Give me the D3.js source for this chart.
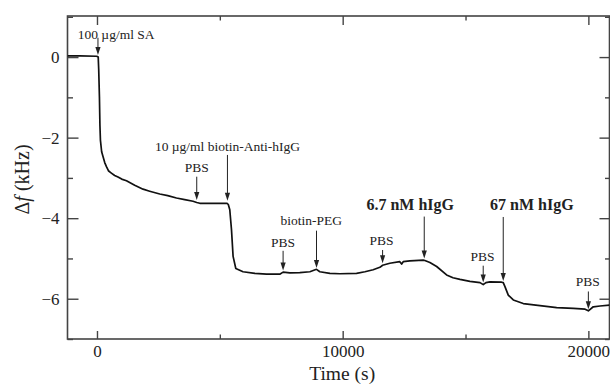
<!DOCTYPE html>
<html>
<head>
<meta charset="utf-8">
<style>
    body { margin: 0; background: #fff; }
    svg { display: block; }
    .axis path { display: none; }
    .axis line { stroke: #444; stroke-width: 1.4px; }
    .frame { fill: none; stroke: #444; stroke-width: 1.6px; }
    .trace { fill: none; stroke: #111; stroke-width: 1.7px; stroke-linejoin: round; }
    .arrow { stroke: #222; stroke-width: 1px; }
</style>
</head>
<body>
<div id="chart"></div>
<script src="https://cdn.jsdelivr.net/npm/d3@7"></script>
<script>

// QCM trace: time (s) and frequency shift (kHz)
var time = [-1200, -700, -10, 50, 70, 100, 120, 140, 190, 245, 315, 385, 475, 585, 720, 855,
    1005, 1200, 1535, 1875, 2145, 2555, 2880, 3235, 3570, 3910, 4060, 4185, 4590, 5000, 5295,
    5345, 5405, 5475, 5540, 5650, 5945, 6425, 6900, 7440, 7575, 7850, 8255, 8665, 8935, 9070,
    9480, 9885, 10565, 10905, 11240, 11515, 11625, 11920, 12325, 12400, 12465, 12735, 13280,
    13345, 13550, 13825, 14230, 14490, 14775, 15180, 15590, 15720, 15830, 15995, 16470, 16535,
    16605, 16740, 16945, 17350, 18030, 18710, 19390, 19865, 20000, 20200, 20475, 20860];
var deltaF = [0.03, 0.03, 0.02, 0.0, -0.3, -1.0, -1.7, -2.06, -2.35, -2.47, -2.62, -2.72, -2.83,
    -2.88, -2.94, -2.98, -3.03, -3.07, -3.18, -3.28, -3.33, -3.40, -3.44, -3.50, -3.54, -3.58,
    -3.61, -3.63, -3.63, -3.63, -3.63, -3.66, -3.79, -4.29, -4.95, -5.25, -5.33, -5.37, -5.39,
    -5.39, -5.34, -5.36, -5.35, -5.33, -5.27, -5.33, -5.37, -5.38, -5.37, -5.33, -5.28, -5.22,
    -5.17, -5.12, -5.08, -5.14, -5.08, -5.06, -5.04, -5.05, -5.10, -5.20, -5.41, -5.48, -5.52,
    -5.57, -5.60, -5.65, -5.60, -5.58, -5.59, -5.60, -5.70, -5.91, -6.03, -6.12, -6.17, -6.22,
    -6.24, -6.26, -6.30, -6.20, -6.18, -6.16];

// injection notes: label, arrow time, text time, text level / arrow top / arrow tip (kHz)
var noteLabels = ["100 \u00b5g/ml SA", "10 \u00b5g/ml biotin-Anti-hIgG", "PBS", "PBS", "biotin-PEG",
    "PBS", "6.7 nM hIgG", "PBS", "67 nM hIgG", "PBS"];
var noteBold = [false, false, false, false, false, false, true, false, true, false];
var noteTime = [40, 5310, 4060, 7575, 8935, 11625, 13320, 15720, 16535, 20000];
var noteTextTime = [780, 5310, 4060, 7575, 8720, 11580, 12750, 15690, 17700, 19980];
var noteTextF = [0.45, -2.33, -2.85, -4.71, -4.17, -4.66, -3.79, -5.06, -3.79, -5.68];
var noteTop = [0.48, -2.43, -2.97, -4.81, -4.31, -4.79, -3.96, -5.18, -3.97, -5.82];
var noteTip = [0.05, -3.57, -3.55, -5.30, -5.24, -5.12, -5.00, -5.60, -5.56, -6.26];

var xTicks = [0, 10000, 20000];
var xMinor = [5000, 15000];
var yTicks = [0, -2, -4, -6];
var yMinor = [1, -1, -3, -5, -7];

const SERIF = "'Liberation Serif', 'Times New Roman', Times, serif";
const widthValue = 610;
const heightValue = 385;
const margin = { top: 16, right: 0.5, bottom: 46, left: 67.5 };
const width = widthValue - margin.left - margin.right;
const height = heightValue - margin.top - margin.bottom;

const svg = d3.select("#chart").append("svg")
    .attr("width", widthValue)
    .attr("height", heightValue);

const g = svg.append("g").attr("transform", "translate(" + margin.left + "," + margin.top + ")");

var x = d3.scaleLinear().domain([-1200, 20860]).range([0, width]);
var y = d3.scaleLinear().domain([-7, 1.02]).range([height, 0]);

// axes on four sides, ticks pointing inwards
g.append("g").attr("class", "axis")
    .attr("transform", "translate(0," + height + ")")
    .call(d3.axisBottom(x).tickValues(xTicks).tickSize(-8).tickPadding(6).tickFormat(d3.format("d")));
g.append("g").attr("class", "axis")
    .attr("transform", "translate(0," + height + ")")
    .call(d3.axisBottom(x).tickValues(xMinor).tickSize(-4.5).tickFormat(""));
g.append("g").attr("class", "axis")
    .call(d3.axisTop(x).tickValues(xTicks).tickSize(-9).tickFormat(""));
g.append("g").attr("class", "axis")
    .call(d3.axisTop(x).tickValues(xMinor).tickSize(-4.5).tickFormat(""));

g.append("g").attr("class", "axis")
    .call(d3.axisLeft(y).tickValues(yTicks).tickSize(-11).tickPadding(8).tickFormat(d3.format("d")));
g.append("g").attr("class", "axis")
    .call(d3.axisLeft(y).tickValues(yMinor).tickSize(-5.5).tickFormat(""));
g.append("g").attr("class", "axis")
    .attr("transform", "translate(" + width + ",0)")
    .call(d3.axisRight(y).tickValues(yTicks).tickSize(-10).tickFormat(""));
g.append("g").attr("class", "axis")
    .attr("transform", "translate(" + width + ",0)")
    .call(d3.axisRight(y).tickValues(yMinor).tickSize(-4.5).tickFormat(""));

g.selectAll(".axis").attr("font-family", SERIF).attr("font-size", 17);
g.selectAll(".axis text").attr("fill", "#222");

g.append("rect").attr("class", "frame")
    .attr("width", width).attr("height", height);

// trace
g.append("clipPath").attr("id", "clip")
    .append("rect").attr("width", width).attr("height", height);

var line = d3.line()
    .x(function (d) { return x(d[0]); })
    .y(function (d) { return y(d[1]); });

g.append("path")
    .datum(d3.zip(time, deltaF))
    .attr("class", "trace")
    .attr("clip-path", "url(#clip)")
    .attr("d", line);

// arrows + labels
var notes = noteLabels.map(function (lab, i) {
    return { label: lab, bold: noteBold[i], t: noteTime[i], tt: noteTextTime[i],
        tf: noteTextF[i], top: noteTop[i], tip: noteTip[i] };
});

var note = g.selectAll(".notes").data(notes).enter().append("g");

note.append("line")
    .attr("class", "arrow")
    .attr("x1", function (d) { return x(d.t); })
    .attr("x2", function (d) { return x(d.t); })
    .attr("y1", function (d) { return y(d.top); })
    .attr("y2", function (d) { return y(d.tip) - 6; });

note.append("path")
    .attr("fill", "#222")
    .attr("d", function (d) {
        var px = x(d.t), py = y(d.tip);
        return "M" + px + "," + py + "L" + (px - 2.6) + "," + (py - 8) + "L" + (px + 2.6) + "," + (py - 8) + "Z";
    });

note.append("text")
    .attr("font-family", SERIF)
    .attr("font-size", function (d) { return d.bold ? 16 : 13.5; })
    .attr("font-weight", function (d) { return d.bold ? "bold" : "normal"; })
    .attr("fill", "#222")
    .attr("x", function (d) { return x(d.tt); })
    .attr("y", function (d) { return y(d.tf); })
    .attr("text-anchor", "middle")
    .text(function (d) { return d.label; });

// axis titles
svg.append("text")
    .attr("font-family", SERIF).attr("font-size", 19.5).attr("fill", "#222")
    .attr("x", margin.left + x(10000) - 0.5)
    .attr("y", 380)
    .attr("text-anchor", "middle")
    .text("Time (s)");

var yt = svg.append("text")
    .attr("font-family", SERIF).attr("font-size", 20).attr("fill", "#222")
    .attr("transform", "translate(29," + (margin.top + height / 2 + 2) + ") rotate(-90)")
    .attr("text-anchor", "middle");
yt.append("tspan").text("\u0394");
yt.append("tspan").style("font-style", "italic").text("f");
yt.append("tspan").text(" (kHz)");

</script>
</body>
</html>
